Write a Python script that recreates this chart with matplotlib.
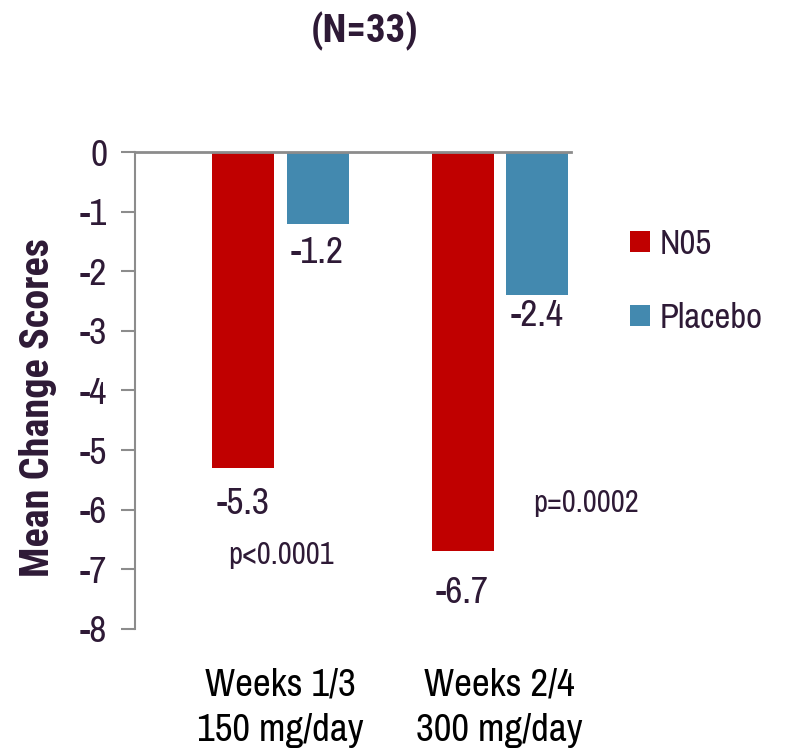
import numpy as np
import matplotlib
matplotlib.use('Agg')
import matplotlib.pyplot as plt

plt.rcParams['font.family'] = ['Archivo Narrow', 'Liberation Sans', 'DejaVu Sans']
bold_font = ['Roboto Condensed', 'Asap Condensed', 'Liberation Sans', 'DejaVu Sans']

# data
groups = ['Weeks 1/3\n150 mg/day', 'Weeks 2/4\n300 mg/day']
n05 = [-5.3, -6.7]
placebo = [-1.2, -2.4]
p_values = ['p<0.0001', 'p=0.0002']
series_names = ['N05', 'Placebo']
title = '(N=33)'
ylabel = 'Mean Change Scores'

red = '#C00000'
blue = '#4389AF'
txt = '#2E1A36'
grey = '#8C8C8C'

fig = plt.figure(figsize=(7.86, 7.51), dpi=100)
ax = fig.add_axes([0.1718, 0.1625, 0.5547, 0.6351])

x = np.arange(len(groups))
w = 0.283
off = 0.169
b1 = ax.bar(x - off, n05, width=w, color=red, label=series_names[0])
b2 = ax.bar(x + off, placebo, width=w, color=blue, label=series_names[1])

# value labels under the bars (offsets in points)
gaps1 = [14, 18]
gaps2 = [9, 3]
for rect, v, g in zip(b1, n05, gaps1):
    ax.annotate('{:.1f}'.format(v), (rect.get_x() + rect.get_width() / 2, v),
                xytext=(0, -g), textcoords='offset points', ha='center', va='top',
                fontsize=27, color=txt)
for rect, v, g in zip(b2, placebo, gaps2):
    ax.annotate('{:.1f}'.format(v), (rect.get_x() + rect.get_width() / 2, v),
                xytext=(0, -g), textcoords='offset points', ha='center', va='top',
                fontsize=27, color=txt)

# p-values
p_pos = [(0.0, -6.76), (1.395, -5.89)]
for (px, py), s in zip(p_pos, p_values):
    ax.text(px, py, s, ha='center', va='center', fontsize=22, color=txt, clip_on=False)

ax.set_xlim(-0.664, 1.326)
ax.set_ylim(-8, 0)
ax.set_yticks(np.arange(-8, 1, 1))
ax.set_yticklabels([str(v) for v in range(-8, 1)])
ax.set_xticks(x)
ax.set_xticklabels(groups, linespacing=1.36)

for s in ['right', 'bottom']:
    ax.spines[s].set_visible(False)
ax.spines['top'].set_color(grey)
ax.spines['top'].set_linewidth(2)
ax.spines['left'].set_color(grey)
ax.spines['left'].set_linewidth(1.5)
ax.tick_params(axis='y', colors=grey, labelcolor=txt, labelsize=27, length=10, width=1.5, pad=10)
ax.tick_params(axis='x', length=0, pad=28, labelsize=28, labelcolor='black')

leg = ax.legend(loc='upper left', bbox_to_anchor=(0.762, 0.738), bbox_transform=fig.transFigure,
                frameon=False, fontsize=25, handlelength=0.57, handleheight=0.57,
                handletextpad=0.29, labelspacing=1.2)
for t in leg.get_texts():
    t.set_color(txt)

fig.text(0.464, 1 - 31 / 751, title, ha='center', va='center', fontsize=28,
         fontweight='bold', color=txt, family=bold_font)
fig.text(38 / 786, 0.457, ylabel, ha='center', va='center', rotation=90,
         fontsize=29, fontweight='bold', color=txt, family=bold_font)

plt.savefig('out.png', dpi=100)
